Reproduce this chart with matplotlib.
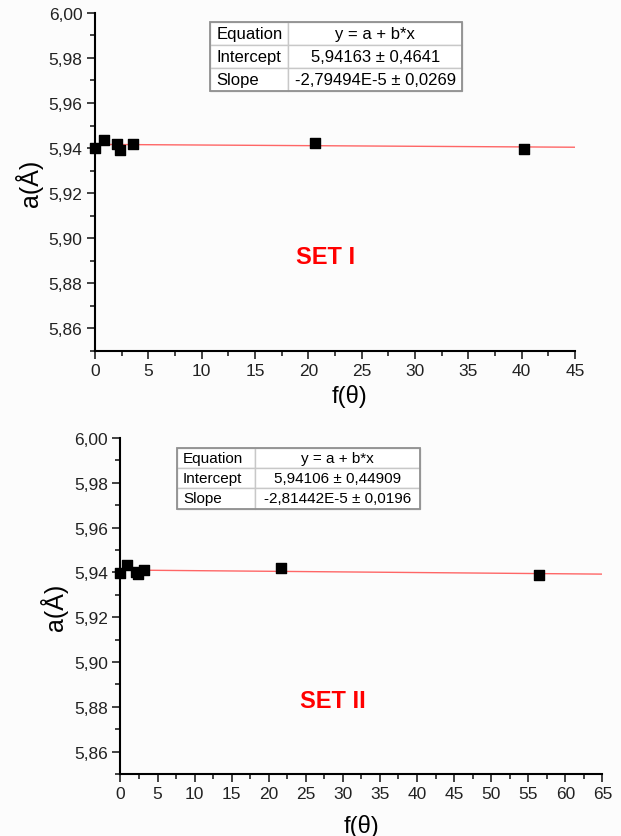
import numpy as np
import matplotlib
matplotlib.use('Agg')
from matplotlib import pyplot as plt
from matplotlib.ticker import MultipleLocator, FuncFormatter

plt.rcParams['font.family'] = ['Liberation Sans', 'DejaVu Sans']

# SET I data
x1 = [0.0, 0.82, 2.08, 2.37, 3.6, 20.66, 40.25]
y1 = [5.9400, 5.9435, 5.9416, 5.9393, 5.9418, 5.9424, 5.9398]
fit1 = (5.94163, -2.79494e-5)
tab1 = [['Equation', 'y = a + b*x'],
        ['Intercept', '5,94163 \u00b1 0,4641'],
        ['Slope', '-2,79494E-5 \u00b1 0,0269']]

# SET II data
x2 = [0.0, 0.86, 2.16, 2.43, 3.18, 21.7, 56.4]
y2 = [5.9397, 5.9433, 5.9403, 5.9391, 5.9412, 5.9420, 5.9390]
fit2 = (5.94106, -2.81442e-5)
tab2 = [['Equation', 'y = a + b*x'],
        ['Intercept', '5,94106 \u00b1 0,44909'],
        ['Slope', '-2,81442E-5 \u00b1 0,0196']]

fig = plt.figure(figsize=(6.21, 8.37), dpi=100)
fig.patch.set_facecolor('#fcfcfc')

comma = FuncFormatter(lambda v, p: ('%.2f' % v).replace('.', ','))


def panel(rect, x, y, fit, tab, xmax, label, lab_pos, tab_bbox, col_frac, tab_fs, ylab_x, xlab_xy):
    ax = fig.add_axes(rect)
    ax.set_facecolor('none')
    ax.set_xlim(0, xmax)
    ax.set_ylim(5.85, 6.00)
    for s in ['top', 'right']:
        ax.spines[s].set_visible(False)
    ax.spines['left'].set_linewidth(1.5)
    ax.spines['bottom'].set_linewidth(1.5)
    ax.xaxis.set_major_locator(MultipleLocator(5))
    ax.xaxis.set_minor_locator(MultipleLocator(2.5))
    ax.yaxis.set_major_locator(MultipleLocator(0.02))
    ax.yaxis.set_minor_locator(MultipleLocator(0.01))
    ax.yaxis.set_major_formatter(comma)
    ax.tick_params(which='major', length=6, width=1.2, labelsize=12.5, colors='#222222', pad=3)
    ax.tick_params(which='minor', length=3.5, width=1.2, colors='#222222')
    xx = np.array([0, xmax])
    ax.plot(xx, fit[0] + fit[1] * xx, color='#ff6666', lw=1, zorder=2)
    ax.scatter(x, y, marker='s', s=45, color='black', zorder=3, clip_on=False)
    ax.set_ylabel('a(\u00c5)', fontsize=18)
    ax.yaxis.set_label_coords(ylab_x, 0.5)
    ax.set_xlabel('f(\u03b8)', fontsize=17)
    ax.xaxis.set_label_coords(xlab_xy[0], xlab_xy[1])
    ax.text(lab_pos[0], lab_pos[1], label, transform=ax.transAxes, color='red',
            fontsize=17, fontweight='bold', ha='center', va='center',
            family=['Liberation Sans Narrow', 'Liberation Sans'])
    t = ax.table(cellText=tab, bbox=tab_bbox, colWidths=col_frac, cellLoc='center')
    t.auto_set_font_size(False)
    t.set_fontsize(tab_fs)
    for (r, c), cell in t.get_celld().items():
        cell.set_edgecolor('#c8c8c8')
        cell.set_linewidth(1)
        cell.set_facecolor('white')
        if c == 0:
            cell._loc = 'left'
            cell.PAD = 0.08
            cell.get_text().set_ha('left')
    ax.add_patch(plt.Rectangle((tab_bbox[0], tab_bbox[1]), tab_bbox[2], tab_bbox[3],
                               transform=ax.transAxes, fill=False, ec='#909090', lw=1.3, zorder=5))
    return ax


panel([0.153, 0.5795, 0.773, 0.404], x1, y1, fit1, tab1, 45, 'SET I', (0.48, 0.28),
      [0.24, 0.769, 0.525, 0.204], [0.31, 0.69], 12, -0.108, (0.53, -0.097))
panel([0.194, 0.0741, 0.776, 0.4014], x2, y2, fit2, tab2, 65, 'SET II', (0.44, 0.22),
      [0.117, 0.79, 0.505, 0.18], [0.32, 0.68], 11, -0.108, (0.50, -0.12))

fig.savefig('out.png', dpi=100, facecolor=fig.get_facecolor())
